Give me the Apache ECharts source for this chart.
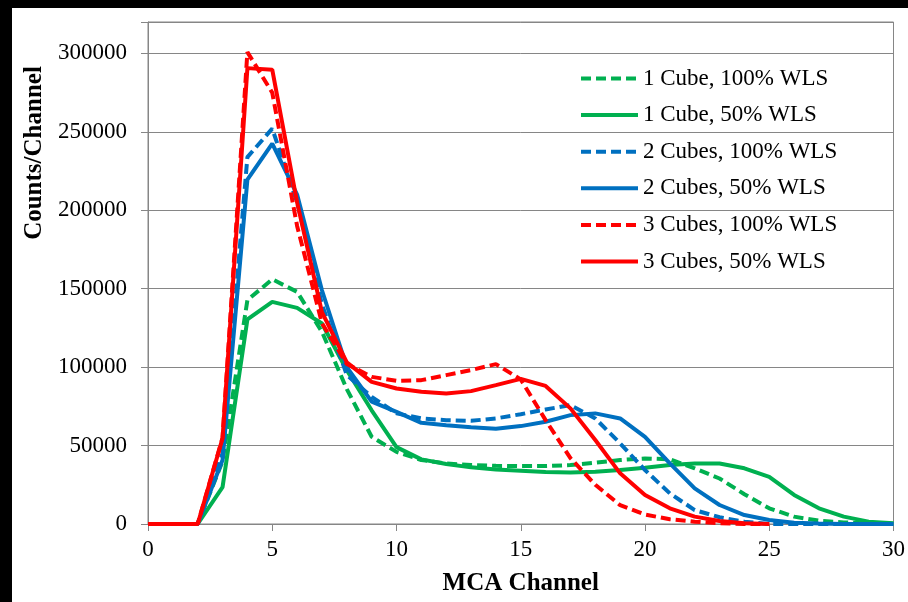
<!DOCTYPE html>
<html>
<head>
<meta charset="utf-8">
<script src="https://cdn.jsdelivr.net/npm/echarts@6/dist/echarts.min.js"></script>
<style>
html,body{margin:0;padding:0;background:#fff;}
#chart{width:908px;height:602px;}
</style>
</head>
<body>
<div id="chart"></div>
<script>
var channels = [0,1,2,3,4,5,6,7,8,9,10,11,12,13,14,15,16,17,18,19,20,21,22,23,24,25,26,27,28,29,30];
var seriesNames = ['1 Cube, 100% WLS','1 Cube, 50% WLS','2 Cubes, 100% WLS','2 Cubes, 50% WLS','3 Cubes, 100% WLS','3 Cubes, 50% WLS'];
var cube1Full = [0,0,0,40000,142700,156000,148000,122500,86000,55600,46000,40800,38600,37600,37100,36900,36900,37600,39100,40800,41800,41200,35500,29000,19000,10000,4700,2100,1000,300,0];
var cube1Half = [0,0,0,23500,130400,141600,137800,127800,98000,72500,49000,41200,38200,36100,34800,34000,33100,32900,33300,34400,35900,37600,38600,38600,35500,30100,18500,10000,4700,1500,500];
var cube2Full = [0,0,0,45000,233900,252000,205000,140000,95000,81000,70500,67300,66200,65800,67300,70000,73000,75800,67300,51400,34400,19500,8900,4300,1500,0,0,0,0,0,0];
var cube2Half = [0,0,0,40800,219500,242500,210000,149000,100000,78000,71500,64500,63000,61600,60700,62400,65200,69400,70500,67300,55600,38600,22700,12100,5700,2500,800,300,0,0,0];
var cube3Full = [0,0,0,55000,300800,275000,190000,128000,102000,93800,91300,91700,94900,98100,101900,92200,66200,42000,25000,12000,6000,3000,1500,500,0,0];
var cube3Half = [0,0,0,54600,290600,289600,205000,135000,103000,90600,86400,84300,83200,84700,88500,92500,88000,73700,53500,32300,18500,10000,4700,1900,500,0];
var yTicks = [0,50000,100000,150000,200000,250000,300000];
var xTicks = [0,5,10,15,20,25,30];

var allData = [cube1Full, cube1Half, cube2Full, cube2Half, cube3Full, cube3Half];
var colors = ['#00B050','#00B050','#0070C0','#0070C0','#FF0000','#FF0000'];
var dashed = [true,false,true,false,true,false];
var font = "'Liberation Serif','Times New Roman',serif";

function pairs(arr){
  var out = [];
  for (var i = 0; i < arr.length; i++) out.push([channels[i], arr[i]]);
  return out;
}

var series = allData.map(function(d, i){
  return {
    name: seriesNames[i],
    type: 'line',
    data: pairs(d),
    symbol: 'none',
    smooth: false,
    color: colors[i],
    lineStyle: {color: colors[i], width: 4, type: dashed[i] ? [10,5] : 'solid', cap: 'butt'},
    animation: false
  };
});

var chart = echarts.init(document.getElementById('chart'), null, {renderer: 'canvas'});
chart.setOption({
  backgroundColor: '#ffffff',
  animation: false,
  grid: {left: 148, right: 13, top: 22, bottom: 78, show: true, borderColor: '#868686', borderWidth: 1, backgroundColor: 'transparent'},
  legend: {
    orient: 'vertical', left: 579, top: 67, padding: 0,
    itemWidth: 57, itemHeight: 23, itemGap: 13.6,
    itemStyle: {opacity: 0},
    lineStyle: {width: 4},
    textStyle: {fontFamily: font, fontSize: 23, color: '#000', lineHeight: 23},
    data: seriesNames
  },
  xAxis: {
    type: 'value', min: 0, max: 30, interval: 5,
    axisLine: {show: true, lineStyle: {color: '#868686', width: 1}},
    axisTick: {show: true, inside: false, length: 7, lineStyle: {color: '#868686'}},
    axisLabel: {fontFamily: font, fontSize: 23, color: '#000', margin: 14,
      formatter: function(v){ return xTicks.indexOf(v) >= 0 ? String(v) : ''; }},
    splitLine: {show: false},
    name: 'MCA Channel', nameLocation: 'middle', nameGap: 47,
    nameTextStyle: {fontFamily: font, fontSize: 25, fontWeight: 'bold', color: '#000'}
  },
  yAxis: {
    type: 'value', min: 0, max: 320000, interval: 50000,
    axisLine: {show: true, lineStyle: {color: '#868686', width: 1}},
    axisTick: {show: true, inside: false, length: 7, lineStyle: {color: '#868686'}},
    axisLabel: {fontFamily: font, fontSize: 23, color: '#000', margin: 21,
      formatter: function(v){ return yTicks.indexOf(v) >= 0 ? String(v) : ''; }},
    splitLine: {show: true, lineStyle: {color: '#868686', width: 1}}
  },
  graphic: [
    {type: 'rect', left: 0, top: 0, shape: {width: 908, height: 8}, style: {fill: '#000'}, z: 100},
    {type: 'rect', left: 0, top: 0, shape: {width: 12, height: 602}, style: {fill: '#000'}, z: 100},
    {type: 'text', x: 35, y: 153, rotation: Math.PI/2, z: 100,
      style: {text: 'Counts/Channel', fontFamily: font, fontSize: 25, fontWeight: 'bold', fill: '#000', align: 'center', verticalAlign: 'middle'}}
  ],
  series: series
});
</script>
</body>
</html>
